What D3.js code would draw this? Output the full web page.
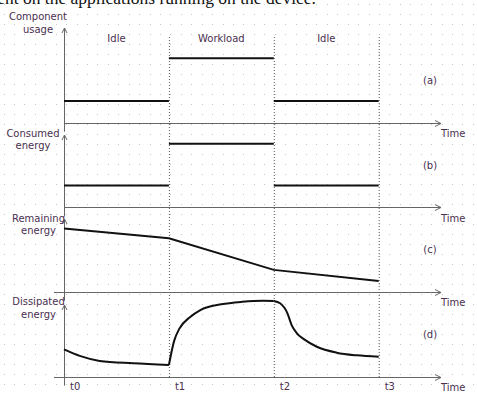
<!DOCTYPE html>
<html>
<head>
<meta charset="utf-8">
<script src="https://cdn.jsdelivr.net/npm/d3@7"></script>
<style>
  body { margin: 0; background: #fff; }
  svg { display: block; }
  .lbl { font-family: "DejaVu Sans", sans-serif; font-size: 10px; fill: #4a2f4f; }
</style>
</head>
<body>
<div id="chart"></div>
<script>
// time marks and phases
var timeLabels = ["t0", "t1", "t2", "t3"];
var phaseNames = ["Idle", "Workload", "Idle"];

// panel texts
var yLabels = [["Component", "usage"], ["Consumed", "energy"], ["Remaining", "energy"], ["Dissipated", "energy"]];
var panelTags = ["(a)", "(b)", "(c)", "(d)"];

// (a) and (b): one level per phase
var usageLevels = [23, 68, 23];
var consumedLevels = [30, 88, 30];

// (c) remaining energy at t0..t3
var remainingEnergy = [87, 73.5, 30, 14.7];

// (d) dissipated energy, [time, value] per phase
var dissipatedIdle1 = [[0, 38], [0.15, 29], [0.34, 22], [0.66, 18.7], [1, 16.3]];
var dissipatedWork = [[1, 16.3], [1.05, 50], [1.1, 67], [1.2, 83], [1.3, 93], [1.5, 101], [1.7, 104.5], [1.9, 106], [2, 105.6]];
var dissipatedIdle2 = [[2, 105.6], [2.06, 102.4], [2.13, 88.4], [2.17, 72], [2.22, 60.5], [2.29, 52], [2.41, 41.8], [2.6, 33.5], [2.79, 29.8], [3, 27.9]];

var W = 477, H = 393;
var svg = d3.select("#chart").append("svg").attr("width", W).attr("height", H);

// dotted background grid
var grid = svg.append("g").attr("fill", "#c8c8c8");
for (var gx = 3.5; gx < W; gx += 10.43)
    for (var gy = 4; gy < H; gy += 10)
        grid.append("rect").attr("x", Math.round(gx)).attr("y", gy).attr("width", 1).attr("height", 1);

// cropped caption line of the source document
svg.append("text")
    .attr("x", 316).attr("y", 4)
    .attr("text-anchor", "end")
    .attr("font-family", "Liberation Serif, serif")
    .attr("font-size", 17.5)
    .attr("fill", "#111")
    .text("ment on the applications running on the device.");

var x = d3.scaleLinear().domain([0, 3]).range([64, 378.7]);
var xEnd = 441;

// panel layout: axis line, arrow tip, axis start, label centre
var panels = [
    {axis: 122.7, top: 28, left: 64, labelX: 38, labelY: 16.7, tagY: 80.7},
    {axis: 207.3, top: 135, left: 64, labelX: 33, labelY: 133.3, tagY: 165},
    {axis: 291.7, top: 219, left: 54, labelX: 38.5, labelY: 218.3, tagY: 249},
    {axis: 376.7, top: 305, left: 54, labelX: 38.5, labelY: 301.7, tagY: 334}
];
panels.forEach(function (p) {
    p.y = d3.scaleLinear().domain([0, 100]).range([p.axis, p.top]);
});

// vertical dotted time marks
svg.append("g").selectAll("line")
    .data([1, 2, 3])
    .enter().append("line")
    .attr("x1", function (d) { return x(d) + 0.5; })
    .attr("x2", function (d) { return x(d) + 0.5; })
    .attr("y1", 37).attr("y2", 378)
    .attr("stroke", "#555")
    .attr("stroke-dasharray", "1,2");

// axes
var axes = svg.append("g").attr("stroke", "#666").attr("fill", "none").attr("stroke-width", 1);
panels.forEach(function (p, i) {
    var ax = Math.round(x(0)) + 0.5;
    var ay = Math.round(p.axis) + 0.5;
    axes.append("line").attr("x1", p.left).attr("x2", xEnd).attr("y1", ay).attr("y2", ay);
    axes.append("path").attr("d", "M" + (xEnd - 6) + "," + (ay - 3) + "L" + xEnd + "," + ay + "L" + (xEnd - 6) + "," + (ay + 3));
    axes.append("line").attr("x1", ax).attr("x2", ax).attr("y1", p.top).attr("y2", p.axis + 9);
    axes.append("path").attr("d", "M" + (ax - 2.5) + "," + (p.top + 5) + "L" + ax + "," + p.top + "L" + (ax + 2.5) + "," + (p.top + 5));

    var t = svg.append("text").attr("class", "lbl").attr("text-anchor", "middle");
    t.append("tspan").attr("x", p.labelX).attr("y", p.labelY + 3.6).text(yLabels[i][0]);
    t.append("tspan").attr("x", p.labelX).attr("y", p.labelY + 12.3 + 3.6).text(yLabels[i][1]);

    svg.append("text").attr("class", "lbl")
        .attr("x", xEnd).attr("y", p.axis + 14.2)
        .text("Time");

    svg.append("text").attr("class", "lbl").attr("text-anchor", "middle")
        .attr("x", 430).attr("y", p.tagY + 3.6)
        .text(panelTags[i]);
});

// phase names
svg.selectAll("text.phase")
    .data(phaseNames)
    .enter().append("text")
    .attr("class", "lbl phase")
    .attr("text-anchor", "middle")
    .attr("x", function (d, i) { return x(i + 0.5); })
    .attr("y", 41.6)
    .text(function (d) { return d; });

// time labels
svg.selectAll("text.tick")
    .data(timeLabels)
    .enter().append("text")
    .attr("class", "lbl tick")
    .attr("x", function (d, i) { return x(i) + 6; })
    .attr("y", 390.3)
    .text(function (d) { return d; });

var marks = svg.append("g").attr("fill", "none").attr("stroke", "#111").attr("stroke-width", 2);

// (a), (b) level steps
[usageLevels, consumedLevels].forEach(function (levels, k) {
    var p = panels[k];
    marks.selectAll(null)
        .data(levels)
        .enter().append("line")
        .attr("x1", function (d, i) { return x(i); })
        .attr("x2", function (d, i) { return x(i + 1); })
        .attr("y1", function (d) { return p.y(d); })
        .attr("y2", function (d) { return p.y(d); });
});

// (c) remaining energy
marks.append("path")
    .attr("d", d3.line()
        .x(function (d, i) { return x(i); })
        .y(function (d) { return panels[2].y(d); })(remainingEnergy));

// (d) dissipated energy
var dLine = d3.line()
    .x(function (d) { return x(d[0]); })
    .y(function (d) { return panels[3].y(d[1]); })
    .curve(d3.curveMonotoneX);
[dissipatedIdle1, dissipatedWork, dissipatedIdle2].forEach(function (seg) {
    marks.append("path").attr("d", dLine(seg));
});
</script>
</body>
</html>
